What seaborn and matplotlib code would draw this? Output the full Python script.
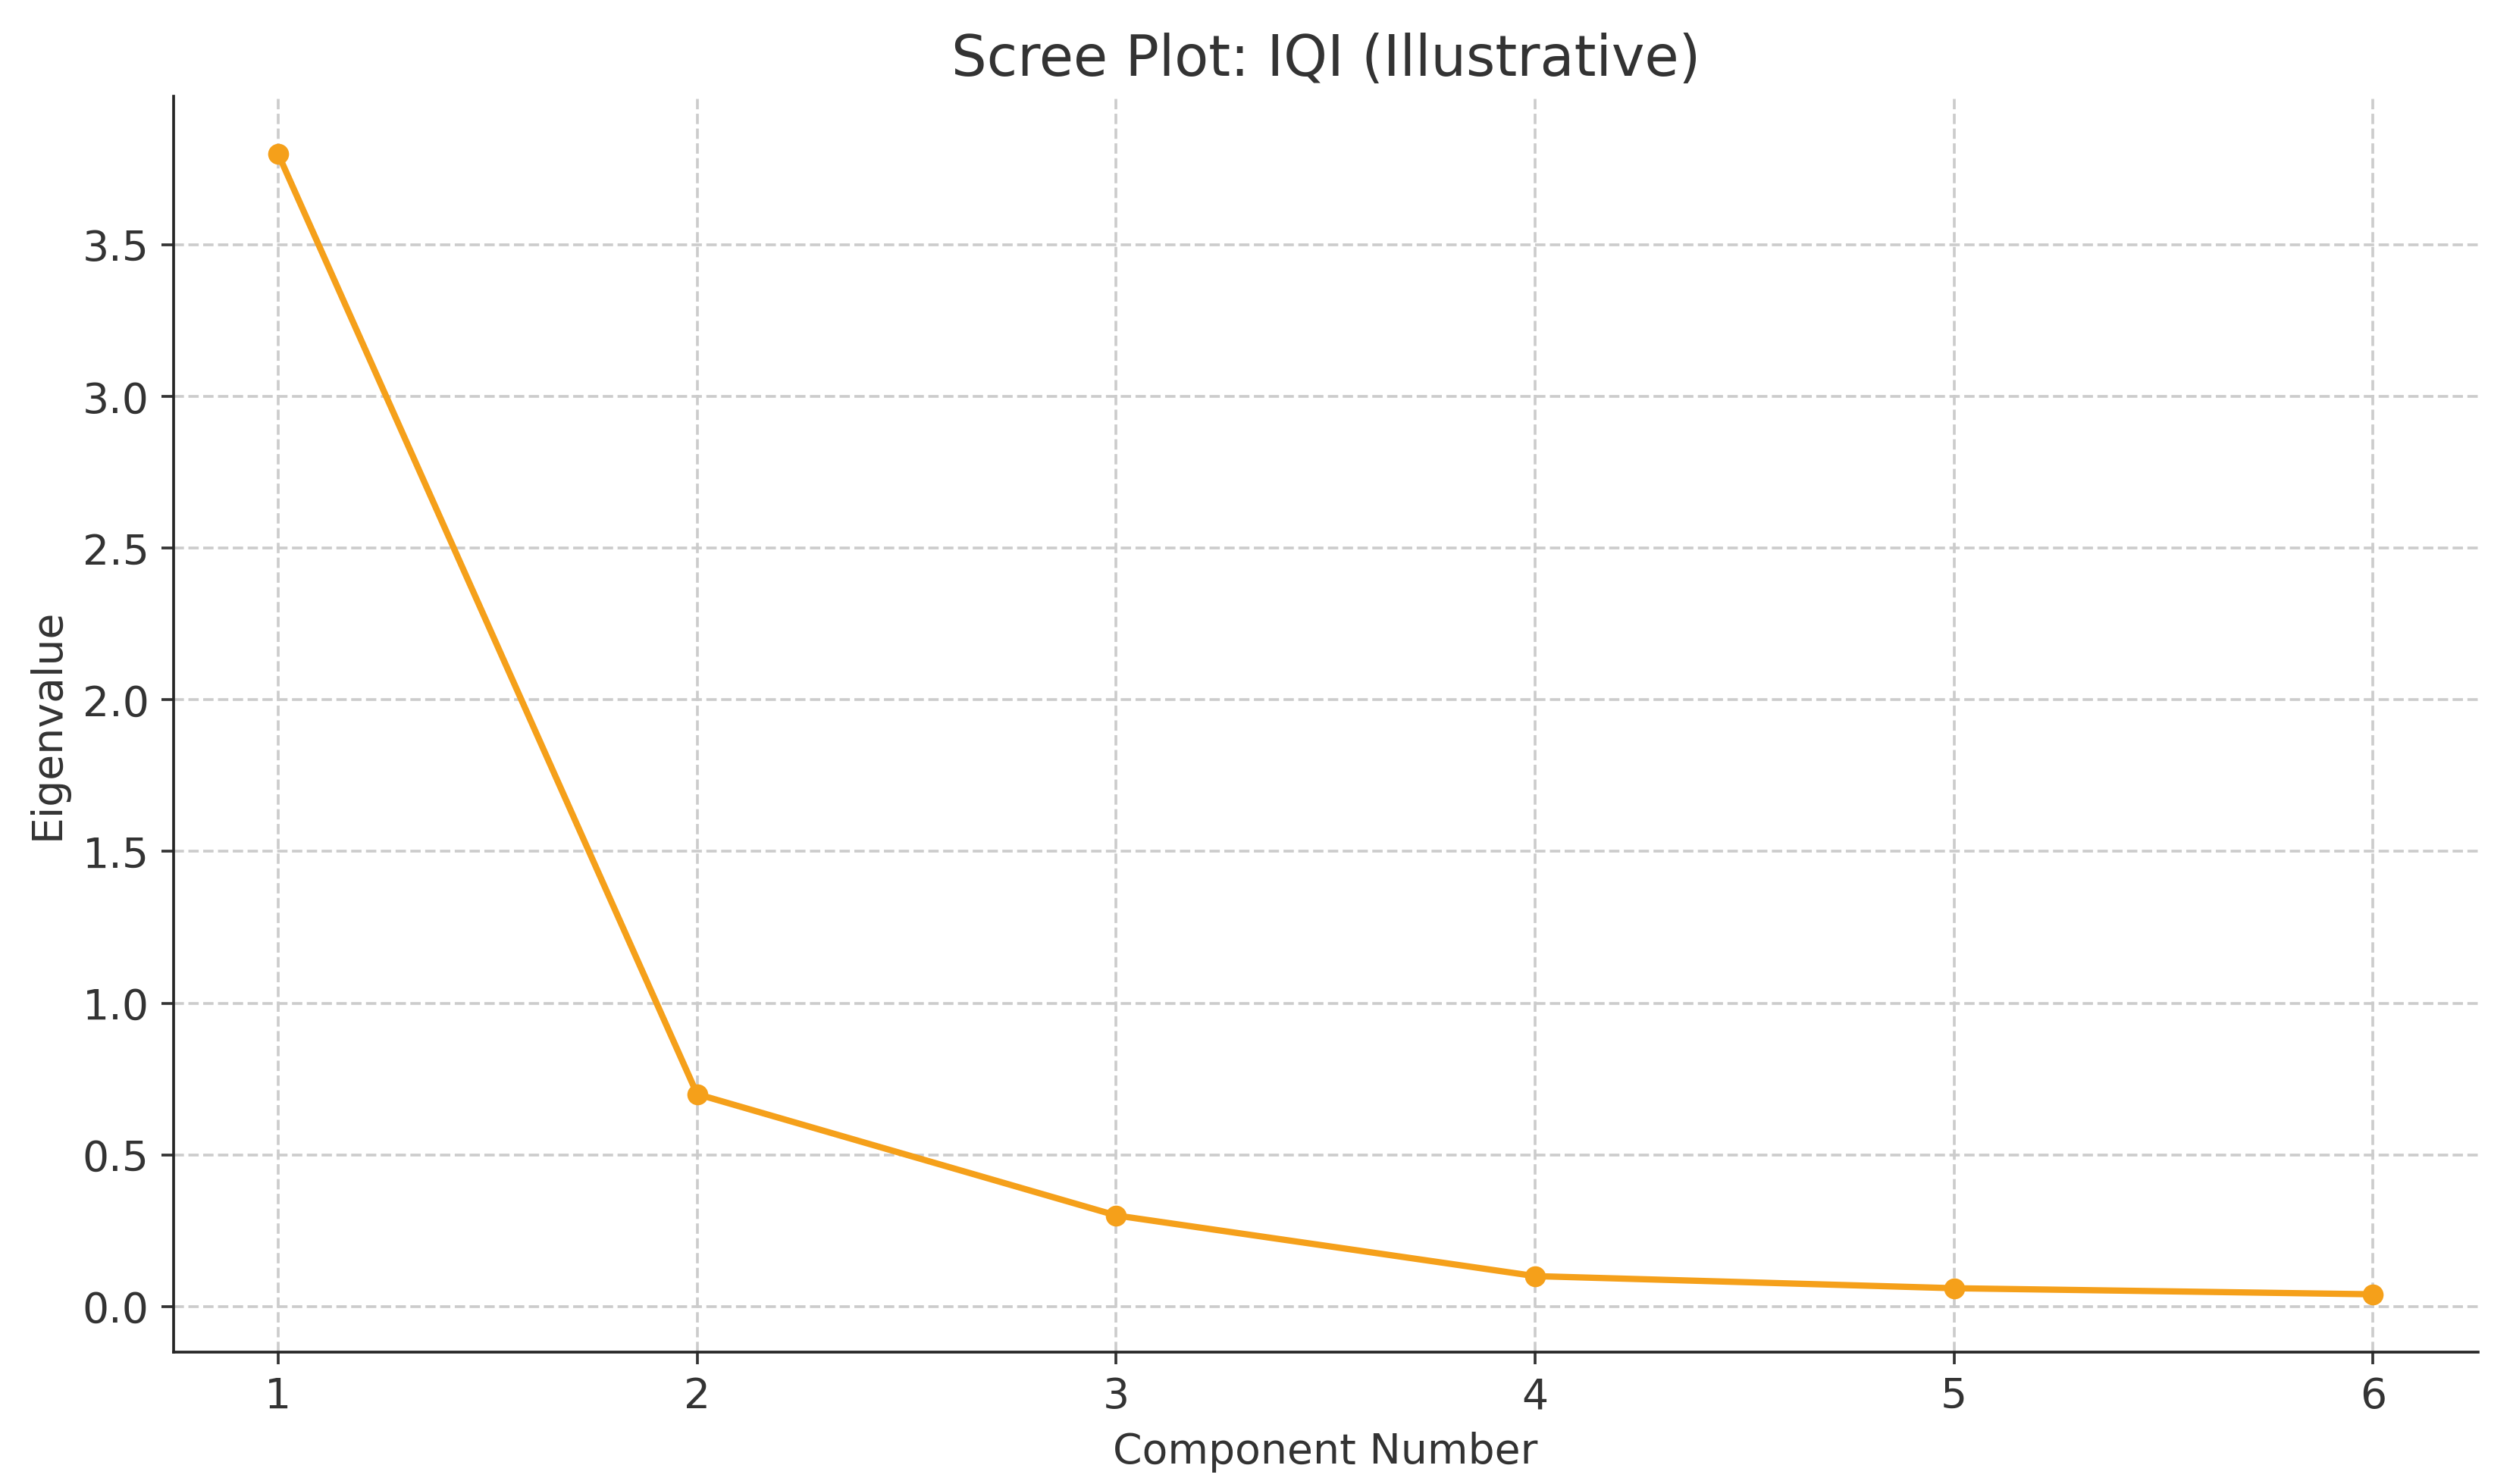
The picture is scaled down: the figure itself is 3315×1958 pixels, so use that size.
import matplotlib
matplotlib.use("Agg")
import matplotlib.pyplot as plt
import seaborn as sns
import pandas as pd

components = [1, 2, 3, 4, 5, 6]
eigenvalues = [3.8, 0.7, 0.3, 0.1, 0.06, 0.04]

sns.set_style("ticks")
plt.rcParams['font.family'] = ['DejaVu Sans']
plt.rcParams['text.color'] = '#333333'
plt.rcParams['axes.labelcolor'] = '#333333'

df = pd.DataFrame({"Component Number": components, "Eigenvalue": eigenvalues})

fig, ax = plt.subplots(figsize=(10, 5.907), dpi=331.5)
fig.subplots_adjust(left=0.069, right=0.986, top=0.935, bottom=0.089)
sns.lineplot(data=df, x="Component Number", y="Eigenvalue", marker="o",
             color="#f5a01a", linewidth=1.8, markersize=6, markeredgewidth=0, ax=ax)
ax.set_title("Scree Plot: IQI (Illustrative)", fontsize=16)
ax.set_xlabel("Component Number", fontsize=12)
ax.set_ylabel("Eigenvalue", fontsize=12)
ax.tick_params(labelsize=12, colors='#333333')
ax.set_xticks(components)
ax.set_xlim(0.75, 6.25)
ax.set_ylim(-0.15, 3.99)
ax.grid(True, linestyle='--', color='#cccccc', linewidth=0.8)
sns.despine(ax=ax)
fig.savefig("out.png", dpi=331.5)
